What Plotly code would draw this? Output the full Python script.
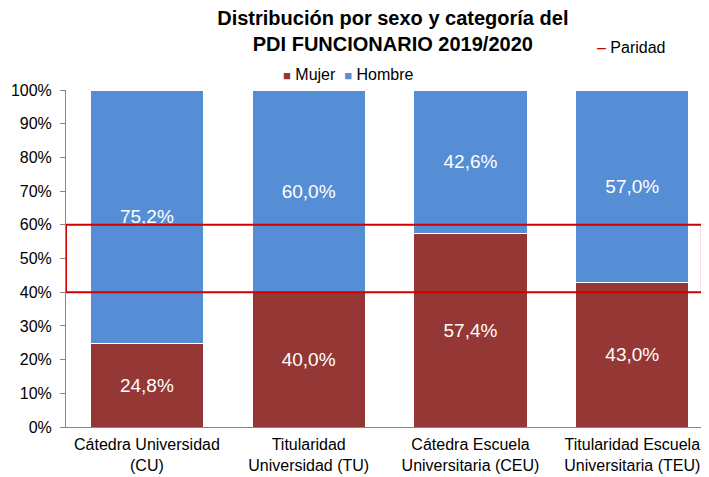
import plotly.graph_objects as go

categorias = ['Cátedra Universidad<br>(CU)', 'Titularidad<br>Universidad (TU)',
              'Cátedra Escuela<br>Universitaria (CEU)', 'Titularidad Escuela<br>Universitaria (TEU)']
mujer = [24.8, 40.0, 57.4, 43.0]
hombre = [75.2, 60.0, 42.6, 57.0]
paridad = [40, 60]

col_mujer = '#953735'
col_hombre = '#558ED5'
col_paridad = '#D00000'

fig = go.Figure()

fig.add_trace(go.Bar(x=categorias, y=mujer, name='Mujer',
                     marker=dict(color=col_mujer, line=dict(color='white', width=1)),
                     texttemplate='%{y:.1f}%', textposition='inside', insidetextanchor='middle',
                     textfont=dict(color='white', size=19), width=0.7))
fig.add_trace(go.Bar(x=categorias, y=hombre, name='Hombre',
                     marker=dict(color=col_hombre, line=dict(color='white', width=1)),
                     texttemplate='%{y:.1f}%', textposition='inside', insidetextanchor='middle',
                     textfont=dict(color='white', size=19), width=0.7))

# franja de paridad 40-60 %
fig.add_shape(type='rect', xref='x', yref='y', x0=-0.5, x1=3.43,
              y0=paridad[0], y1=paridad[1], line=dict(color=col_paridad, width=2))

# leyendas (como en Excel: marcadores pequeños)
fig.add_annotation(xref='paper', yref='paper', x=0.44, y=1.047, xanchor='center', yanchor='middle',
                   showarrow=False, font=dict(size=16),
                   text=f'<span style="color:{col_mujer};font-size:13px">■</span> Mujer  '
                        f'<span style="color:{col_hombre};font-size:13px">■</span> Hombre')
fig.add_annotation(xref='paper', yref='paper', x=0.822, y=1.125, xanchor='left', yanchor='middle',
                   showarrow=False, font=dict(size=16),
                   text=f'<span style="color:{col_paridad}">–</span> Paridad')

# la página tiene un margen de 8 px, de ahí el tamaño 701x469
fig.update_layout(
    width=701, height=469,
    barmode='stack',
    separators=',.',
    showlegend=False,
    plot_bgcolor='white', paper_bgcolor='white',
    font=dict(family='Liberation Sans, Arial, sans-serif', size=16, color='#000000'),
    margin=dict(l=58, r=0, t=82, b=50),
    title=dict(text='<b>Distribución por sexo y categoría del<br>PDI FUNCIONARIO 2019/2020</b>',
               x=0.549, xanchor='center', y=0.964, yanchor='top',
               font=dict(size=20, color='#000000')),
)

fig.update_xaxes(range=[-0.5, 3.474], showline=True, linecolor='#868686', linewidth=1,
                 ticks='', showgrid=False, tickfont=dict(size=16), automargin=False,
                 ticklabelstandoff=3)
fig.update_yaxes(range=[0, 100], dtick=10, ticksuffix='%', showline=True, linecolor='#868686',
                 linewidth=1, ticks='outside', ticklen=5, tickcolor='#868686', showgrid=False,
                 zeroline=False, tickfont=dict(size=16), automargin=False,
                 ticklabelstandoff=5)

fig.write_html('out.html')
